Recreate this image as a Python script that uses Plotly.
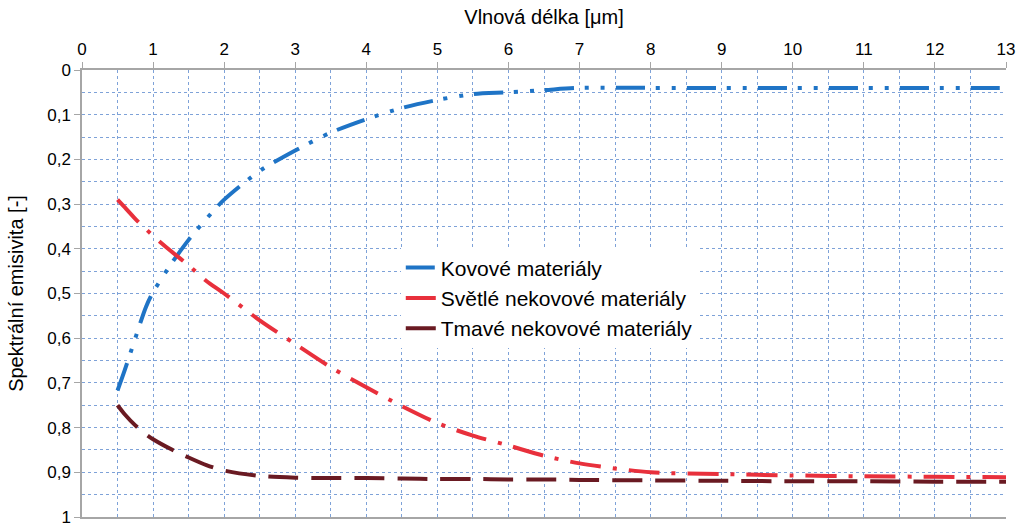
import plotly.graph_objects as go

wavelength = [0.5, 0.6, 0.75, 0.9, 1.0, 1.25, 1.5, 1.75, 2.0, 2.5, 3.0, 3.5, 4.0, 4.5,
              5.0, 5.5, 6.0, 6.5, 7.0, 8.0, 9.0, 10.0, 11.0, 12.0, 13.0]
kovove = [0.717, 0.672, 0.600, 0.530, 0.497, 0.435, 0.380, 0.333, 0.290, 0.226, 0.180,
          0.140, 0.110, 0.085, 0.067, 0.054, 0.050, 0.045, 0.040, 0.040, 0.040, 0.040,
          0.040, 0.040, 0.040]
svetle = [0.290, 0.307, 0.333, 0.356, 0.371, 0.405, 0.437, 0.472, 0.500, 0.560, 0.613,
          0.665, 0.710, 0.752, 0.790, 0.818, 0.840, 0.863, 0.880, 0.900, 0.904, 0.907,
          0.909, 0.910, 0.911]
tmave = [0.750, 0.770, 0.795, 0.815, 0.826, 0.848, 0.867, 0.884, 0.896, 0.908, 0.912,
         0.913, 0.913, 0.914, 0.915, 0.915, 0.916, 0.916, 0.917, 0.918, 0.919, 0.920,
         0.920, 0.921, 0.921]

series_names = ["Kovové materiály", "Světlé nekovové materiály", "Tmavé nekovové materiály"]
series_colors = ["#1f74c6", "#e8303c", "#6a1a22"]
series_dash = ["29px,11px,4px,12px,4px,11px", "31px,12px,4px,12px", "30px,13px"]

x_tickvals = list(range(0, 14))
x_ticktext = [str(v) for v in x_tickvals]
y_tickvals = [0, 0.1, 0.2, 0.3, 0.4, 0.5, 0.6, 0.7, 0.8, 0.9, 1.0]
y_ticktext = ["0", "0,1", "0,2", "0,3", "0,4", "0,5", "0,6", "0,7", "0,8", "0,9", "1"]

FONT = "Arial, Liberation Sans, sans-serif"
GRID = "#7ea2d8"

fig = go.Figure()
for ys, name, color, dash in zip([kovove, svetle, tmave], series_names, series_colors, series_dash):
    fig.add_trace(go.Scatter(
        x=wavelength, y=ys, name=name, mode="lines",
        line=dict(color=color, width=4, dash=dash, shape="spline", smoothing=0.8),
    ))

fig.update_layout(
    width=1016, height=526,
    margin=dict(l=82, r=10, t=70, b=9),
    paper_bgcolor="white", plot_bgcolor="white",
    font=dict(family=FONT, color="black", size=17),
    showlegend=True,
    legend=dict(
        x=0.345, y=0.603, xanchor="left", yanchor="top",
        bgcolor="white", font=dict(size=21, family=FONT),
        tracegroupgap=0, itemwidth=30,
    ),
    xaxis=dict(
        side="top", range=[0, 13], automargin=False,
        tickvals=x_tickvals, ticktext=x_ticktext,
        showline=True, linecolor="#a6a6a6", linewidth=1.5, mirror=True,
        ticks="outside", ticklen=6, tickcolor="#a6a6a6",
        showgrid=True, gridcolor=GRID, gridwidth=1, griddash="dot",
        minor=dict(dtick=0.5, showgrid=True, gridcolor=GRID, gridwidth=1, griddash="dot"),
        zeroline=False, ticklabeloverflow="allow",
        title=dict(text="Vlnová délka [μm]", font=dict(size=20), standoff=10),
        tickfont=dict(size=17),
    ),
    yaxis=dict(
        range=[1, 0], automargin=False,
        tickvals=y_tickvals, ticktext=y_ticktext,
        showline=True, linecolor="#a6a6a6", linewidth=1.5,
        ticks="outside", ticklen=6, tickcolor="#a6a6a6",
        showgrid=True, gridcolor=GRID, gridwidth=1, griddash="dot",
        minor=dict(dtick=0.05, tick0=0, showgrid=True, gridcolor=GRID, gridwidth=1, griddash="dot"),
        zeroline=False, ticklabeloverflow="allow",
        title=dict(text="Spektrální emisivita [-]", font=dict(size=20), standoff=18),
        tickfont=dict(size=17),
    ),
)

fig.write_html("out.html")
